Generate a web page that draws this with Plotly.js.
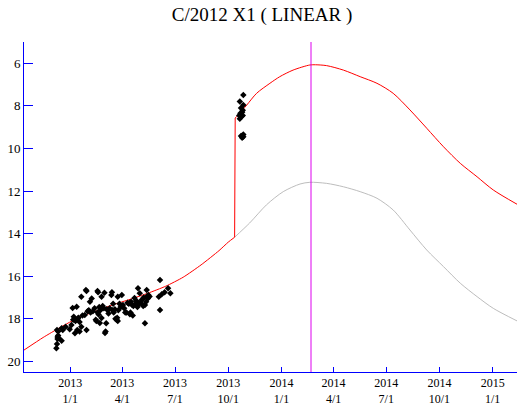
<!DOCTYPE html>
<html>
<head>
<meta charset="utf-8">
<script src="https://cdn.plot.ly/plotly-3.0.1.min.js"></script>
<style>
html,body{margin:0;padding:0;background:#ffffff;}
#chart{width:524px;height:406px;}
</style>
</head>
<body>
<div id="chart"></div>
<script>
// Total magnitude model (red) before the outburst
var redPreDates = ['2012-10-13','2012-11-15','2012-12-15','2013-01-15','2013-02-15','2013-03-15','2013-04-15','2013-05-15','2013-06-15','2013-07-15','2013-08-15','2013-09-15','2013-10-01','2013-10-12'];
var redPreMags  = [19.47,18.88,18.4,17.95,17.63,17.35,17.08,16.8,16.47,16.05,15.47,14.8,14.4,14.17];
// Total magnitude model (red) after the outburst
var redPostDates = ['2013-10-13','2013-10-18','2013-11-02','2013-11-19','2013-12-12','2013-12-29','2014-01-21','2014-02-19','2014-03-01','2014-03-20','2014-04-18','2014-05-17','2014-06-15','2014-07-13','2014-08-11','2014-09-09','2014-10-08','2014-11-06','2014-12-05','2015-01-02','2015-02-12'];
var redPostMags  = [8.57,8.43,7.96,7.41,6.94,6.63,6.32,6.08,6.07,6.11,6.32,6.63,6.94,7.41,8.19,9.05,9.92,10.7,11.33,11.95,12.62];

// Pre-outburst model continuation (gray)
var grayDates = ['2013-10-12','2013-11-07','2013-12-06','2014-01-04','2014-02-02','2014-02-19','2014-03-20','2014-04-18','2014-05-17','2014-06-15','2014-07-13','2014-08-11','2014-09-09','2014-10-08','2014-11-06','2014-12-05','2015-01-02','2015-02-12'];
var grayMags  = [14.17,13.5,12.65,12.03,11.67,11.59,11.64,11.8,12.03,12.34,12.89,13.83,14.77,15.55,16.33,16.96,17.51,18.1];

// Observations
var obsDates = ['2012-12-08','2012-12-09','2012-12-09','2012-12-10','2012-12-10','2012-12-11','2012-12-12','2012-12-11','2012-12-17','2012-12-17','2012-12-19','2012-12-24','2012-12-31','2013-01-03','2013-01-05','2013-01-06','2013-01-07','2013-01-09','2013-01-10','2013-01-12','2013-01-13','2013-01-14','2013-01-15','2013-01-17','2013-01-17','2013-01-20','2013-01-20','2013-01-22','2013-01-26','2013-01-28','2013-01-29','2013-01-29','2013-01-31','2013-02-02','2013-02-04','2013-02-05','2013-02-07','2013-02-09','2013-02-12','2013-02-14','2013-02-15','2013-02-17','2013-02-17','2013-02-18','2013-02-19','2013-02-20','2013-02-21','2013-02-22','2013-02-24','2013-02-24','2013-02-26','2013-02-28','2013-03-01','2013-03-02','2013-03-03','2013-03-04','2013-03-05','2013-03-07','2013-03-08','2013-03-10','2013-03-13','2013-03-14','2013-03-15','2013-03-16','2013-03-17','2013-03-19','2013-03-20','2013-03-22','2013-03-23','2013-03-24','2013-03-24','2013-03-25','2013-03-27','2013-03-29','2013-03-31','2013-03-31','2013-04-02','2013-04-04','2013-04-06','2013-04-08','2013-04-10','2013-04-12','2013-04-14','2013-04-14','2013-04-15','2013-04-16','2013-04-18','2013-04-19','2013-04-20','2013-04-22','2013-04-24','2013-04-25','2013-04-27','2013-04-28','2013-04-28','2013-04-30','2013-05-01','2013-05-03','2013-05-05','2013-05-07','2013-05-08','2013-05-10','2013-05-10','2013-05-12','2013-05-13','2013-05-13','2013-05-15','2013-05-16','2013-05-18','2013-06-03','2013-06-05','2013-06-05','2013-06-08','2013-06-13','2013-06-19','2013-06-23','2013-10-27','2013-10-21','2013-10-25','2013-10-26','2013-10-22','2013-10-20','2013-10-24','2013-10-21','2013-10-26','2013-10-27','2013-10-23','2013-10-25','2013-10-27','2013-10-23','2013-10-27','2013-10-25'];
var obsMags = [19.39,19.18,18.53,18.86,18.95,18.78,18.9,18.6,19.03,18.45,18.53,18.37,18.49,18.29,17.49,18.05,17.9,18.68,18.1,17.43,18.53,18.0,17.95,18.6,18.15,16.96,18.37,17.85,17.82,16.65,18.53,16.7,17.65,17.6,17.2,17.7,17.05,17.65,17.5,18.05,18.1,16.7,17.7,16.75,17.8,17.45,18.2,17.6,16.96,17.96,17.4,17.5,16.78,18.67,18.6,18.21,17.55,17.6,17.75,17.5,16.88,16.75,17.6,17.3,17.7,17.55,18.0,18.05,17.95,16.96,18.1,17.6,17.3,17.45,16.88,17.42,17.35,17.5,17.7,17.7,17.25,17.3,17.26,17.79,17.7,17.2,17.35,17.85,17.4,17.02,17.3,17.15,17.45,17.34,16.57,17.25,16.8,17.26,17.1,17.4,17.0,17.35,18.21,17.2,16.65,16.96,17.05,16.88,16.95,16.96,16.18,17.59,16.85,16.75,16.57,16.8,7.49,7.8,8.3,8.2,8.35,8.45,8.5,8.6,8.45,7.96,8.1,9.4,9.45,9.42,9.35,9.5];

// Current date marker
var nowDate = '2014-02-21';

// Axis ticks
var xTickVals = ['2013-01-01','2013-04-01','2013-07-01','2013-10-01','2014-01-01','2014-04-01','2014-07-01','2014-10-01','2015-01-01'];
var xTickText = ['2013<br>1/1','2013<br>4/1','2013<br>7/1','2013<br>10/1','2014<br>1/1','2014<br>4/1','2014<br>7/1','2014<br>10/1','2015<br>1/1'];
var yTickVals = [6,8,10,12,14,16,18,20];

var serif = '"Liberation Serif", "DejaVu Serif", "Times New Roman", serif';

var traces = [
  {x: grayDates, y: grayMags, type:'scatter', mode:'lines', line:{color:'#bdbdbd', width:1, shape:'spline', smoothing:0.8}, hoverinfo:'skip'},
  {x: redPreDates, y: redPreMags, type:'scatter', mode:'lines', line:{color:'#ff0000', width:1, shape:'spline', smoothing:0.6}, hoverinfo:'skip'},
  {x: [redPreDates[redPreDates.length-1], redPostDates[0]], y: [redPreMags[redPreMags.length-1], redPostMags[0]], type:'scatter', mode:'lines', line:{color:'#ff0000', width:1}, hoverinfo:'skip'},
  {x: redPostDates, y: redPostMags, type:'scatter', mode:'lines', line:{color:'#ff0000', width:1, shape:'spline', smoothing:0.8}, hoverinfo:'skip'},
  {x: obsDates, y: obsMags, type:'scatter', mode:'markers', marker:{symbol:'diamond', size:5, color:'#000000'}, hoverinfo:'skip'}
];

var layout = {
  width:524, height:406,
  margin:{l:24, r:7, t:42, b:34},
  paper_bgcolor:'#ffffff', plot_bgcolor:'#ffffff',
  showlegend:false,
  title:{text:'C/2012 X1 ( LINEAR )', font:{family:serif, size:19, color:'#000000'}, x:0.5, xanchor:'center', y:0.965, yanchor:'middle', yref:'container'},
  xaxis:{type:'date', range:['2012-10-13','2015-02-12'], tickvals:xTickVals, ticktext:xTickText,
         ticks:'inside', ticklen:5, tickcolor:'#0000ff', tickwidth:1,
         showline:true, linecolor:'#0000ff', linewidth:1, showgrid:false, zeroline:false,
         tickfont:{family:serif, size:12, color:'#000000'}},
  yaxis:{range:[20.5,5], tickvals:yTickVals, ticks:'inside', ticklen:9, tickcolor:'#0000ff', tickwidth:1,
         showline:true, linecolor:'#0000ff', linewidth:1, showgrid:false, zeroline:false,
         tickfont:{family:serif, size:13, color:'#000000'}},
  shapes:[{type:'line', xref:'x', yref:'paper', x0:nowDate, x1:nowDate, y0:0, y1:1, line:{color:'#dd00ee', width:1}}]
};

Plotly.newPlot('chart', traces, layout, {staticPlot:true, displayModeBar:false});
</script>
</body>
</html>
